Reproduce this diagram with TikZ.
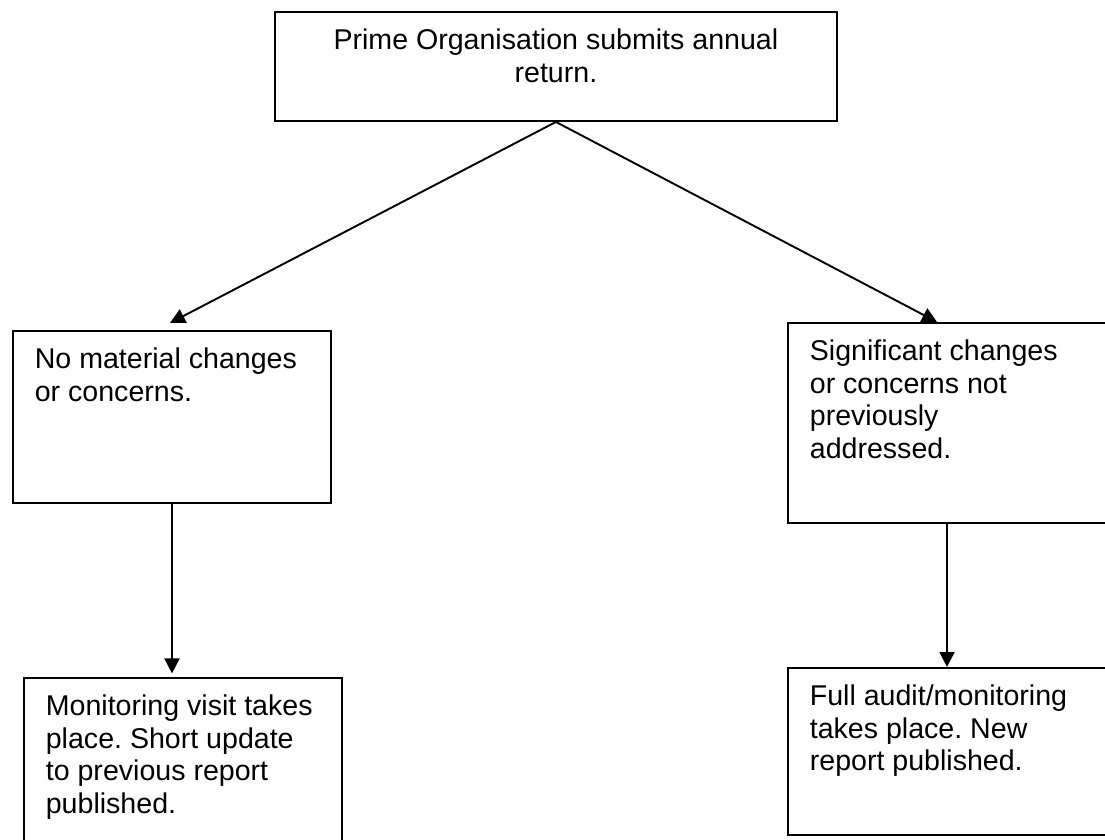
\documentclass[tikz,border=0pt]{standalone}
\usepackage{fontspec}
\setmainfont{Liberation Sans}
\frenchspacing
\usetikzlibrary{positioning, arrows.meta}
\tikzstyle{arrow} = [line width=0.8pt,-{Triangle[length=6.3pt,width=6.3pt]}]
\newcommand{\boxtext}[2]{\parbox[t][#1][t]{115.2pt}{\raggedright\strut #2}}

\begin{document}
\begin{tikzpicture}[x=0.42pt, y=-0.42pt]
        \tikzstyle{every node}=[font=\fontsize{12}{13.8}\selectfont]
        \tikzstyle{stepbox} = [draw=black, line width=0.8pt, anchor=north west, inner xsep=9.2pt, inner ysep=6pt]

        \useasboundingbox (0,0) rectangle (1105,839);

        % annual return
        \node[stepbox](prime) at (274,11) {\parbox[t][33.8pt][t]{217.6pt}{\centering\strut Prime Organisation submits annual\\ return.}};

        % outcomes
        \node[stepbox](nochange) at (12,330) {\boxtext{60.2pt}{No material changes\\ or concerns.}};
        \node[stepbox](significant) at (787,322) {\boxtext{72pt}{Significant changes\\ or concerns not\\ previously\\ addressed.}};

        % follow-up
        \node[stepbox](visit) at (23,677) {\boxtext{70pt}{Monitoring visit takes\\ place. Short update\\ to previous report\\ published.}};
        \node[stepbox](audit) at (787,667) {\boxtext{58.1pt}{Full audit/monitoring\\ takes place. New\\ report published.}};

        % arrow tips of the two branches
        \coordinate (t1) at (170,323);
        \coordinate (t2) at (937,322);

        \draw[arrow] (prime.south) -- (t1);
        \draw[arrow] (prime.south) -- (t2);
        \draw[arrow, shorten >=1.5pt] (nochange.south) -- (visit.north -| nochange.south);
        \draw[arrow] (significant.south) -- (audit.north);
\end{tikzpicture}
\end{document}
